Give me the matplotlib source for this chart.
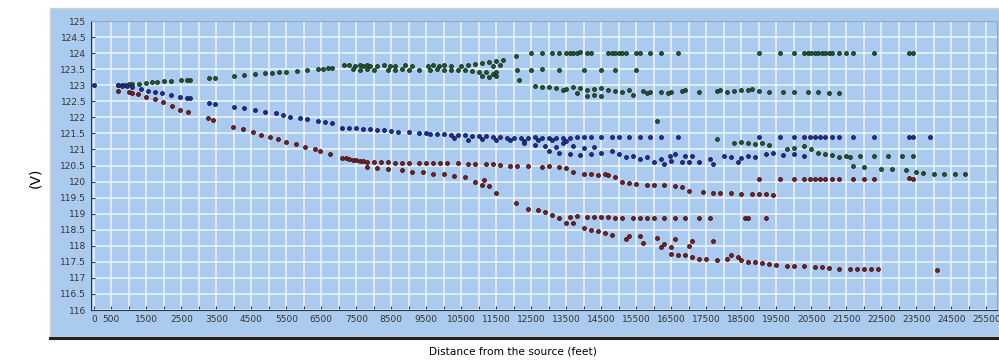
import matplotlib.pyplot as plt
from matplotlib.patches import Rectangle
from matplotlib.lines import Line2D
import numpy as np

# phase voltages vs distance
green_x = [700, 800, 900, 1000, 1100, 1300, 1500, 1650, 1800, 2000, 2200, 2500, 2650, 2750,
           3300, 3450, 4000, 4300, 4600, 4900, 5100, 5300, 5500, 5800, 6100, 6400, 6550, 6700, 6800,
           7150, 7300, 7450, 7600, 7700, 7800, 7900, 8100, 8300, 8450, 8600, 8900, 9100, 9550, 9700,
           9850, 10000, 10200, 10500, 10700, 10900, 11100, 11300, 11500, 11700, 11400, 11600,
           7400, 7600, 7800, 8000, 8400, 8600, 8800, 9000, 9300, 9600, 9800, 10000, 10200, 10400,
           10600, 10800, 11000, 11200, 11400, 11500, 11100, 11300, 11500,
           12050, 12100, 12150,
           12500, 12800, 13100, 13300, 13500, 13600, 13700, 13800, 13900, 14100, 14200, 14700, 14800,
           14900, 15000, 15100, 15200, 15500, 15600, 15900, 16200, 16700, 19000, 19600, 20000, 20300,
           20400, 20500, 20600, 20700, 20800, 20900, 21000, 21100, 21300, 21500, 21700, 22300, 23300,
           23400,
           12500, 12800, 13300, 14000, 14500, 14900, 15500,
           12600, 12800, 13000, 13200, 13400, 13500, 13700, 13900, 14100, 14300, 14500, 14700, 14900,
           15100, 15300, 15700, 15900, 16200, 16500, 16800, 16900, 17300, 17800, 17900, 18100, 18300,
           18500, 18700, 18800, 19000, 19300, 19700, 20000, 20400, 20700, 21000, 21300,
           13800, 14100, 14300, 14500, 15400, 15800, 16400,
           16100,
           17800, 18300, 18500, 18700, 18900, 19100, 19300, 19800, 20000, 20300, 20500, 20700, 20900,
           21100, 21300, 21500, 21600, 21900, 22300, 22700, 23100, 23400,
           21700, 22000, 22500, 22800, 23200, 23500, 23700, 24000, 24300, 24600, 24900]
green_y = [123.0, 123.0, 123.02, 123.03, 123.04, 123.05, 123.07, 123.09, 123.1, 123.12, 123.13,
           123.15, 123.17, 123.17,
           123.22, 123.24, 123.28, 123.31, 123.34, 123.37, 123.38, 123.4, 123.42, 123.45, 123.47,
           123.5, 123.51, 123.53, 123.55,
           123.62, 123.63, 123.61, 123.62, 123.6, 123.62, 123.61, 123.6, 123.62, 123.6, 123.61,
           123.62, 123.6, 123.61, 123.62, 123.6, 123.62, 123.61, 123.6, 123.62, 123.65, 123.68,
           123.72, 123.75, 123.8, 123.6, 123.62,
           123.5, 123.48, 123.5, 123.47, 123.48, 123.46, 123.5, 123.48, 123.47, 123.48, 123.5,
           123.47, 123.48, 123.46, 123.47, 123.45, 123.42, 123.4, 123.35, 123.4, 123.3, 123.25,
           123.28,
           123.9, 123.48, 123.15,
           124.0, 124.0, 124.0, 124.0, 124.01, 124.0, 124.0, 124.01, 124.02, 124.0, 124.01, 124.0,
           124.0, 124.0, 124.0, 124.0, 124.0, 124.0, 124.0, 124.0, 124.0, 124.0, 124.0, 124.0,
           124.0, 124.0, 124.0, 124.0, 124.0, 124.0, 124.0, 124.0, 124.0, 124.0, 124.0, 124.0,
           124.0, 124.0, 124.0, 124.0,
           123.48, 123.5, 123.47, 123.48, 123.47, 123.48, 123.48,
           122.97, 122.95, 122.93, 122.9, 122.85, 122.88, 122.95, 122.9, 122.85, 122.88, 122.9,
           122.85, 122.82, 122.8, 122.85, 122.82, 122.8, 122.78, 122.8, 122.82, 122.85, 122.8,
           122.82, 122.85, 122.8, 122.82, 122.84, 122.86, 122.88, 122.82, 122.78, 122.8, 122.78,
           122.8, 122.78, 122.77, 122.76,
           122.75, 122.65, 122.68, 122.65, 122.7, 122.75, 122.75,
           121.9,
           121.33, 121.2, 121.22, 121.2, 121.18, 121.2, 121.15, 121.0, 121.05, 121.1, 121.0, 120.9,
           120.85, 120.82, 120.75, 120.8, 120.75, 120.8, 120.8, 120.8, 120.8, 120.8,
           120.5, 120.45, 120.4, 120.38, 120.35, 120.3, 120.28, 120.25, 120.25, 120.25, 120.25]

blue_x = [0, 700, 800, 950, 1100, 1350, 1550, 1750, 1950, 2200, 2450, 2650, 2750, 3300, 3450,
          4000, 4300, 4600, 4900, 5200, 5400, 5600, 5900, 6100, 6400, 6600, 6800,
          7100, 7300, 7500, 7700, 7900, 8100, 8300, 8500, 8700, 9000, 9300, 9500,
          9600, 9800, 10000, 10200, 10400, 10600, 10800, 11000, 11200, 11400, 11600, 11800, 12000,
          12200, 12400, 12600, 12800, 13000, 13200, 13400, 13600, 13800, 14000, 14200, 14500, 14800,
          15000, 15300, 15600, 15900, 16200, 16700, 19000, 19600, 20000, 20300, 20450, 20600, 20750,
          20900, 21100, 21300, 21700, 22300, 23300, 23400, 23900,
          10300, 10700, 11100, 11500, 11900, 12300, 12700, 13100, 13500,
          12300, 12600, 12900, 13200, 13400, 13700, 14000, 14300,
          13000, 13300, 13600, 13900, 14200, 14500, 14800, 15000, 15200, 15400, 15600, 15800, 16000,
          16200, 16500, 16800, 17000, 17300, 17600, 17700, 18000, 18200, 18500, 18700, 18900, 19200,
          19400, 19700, 20000, 20300, 16600, 16900, 17100, 18400, 16300, 16450]
blue_y = [123.02, 123.0, 122.99, 122.97, 122.93, 122.88, 122.82, 122.79, 122.75, 122.68, 122.63,
          122.61, 122.59, 122.46, 122.43,
          122.33, 122.28, 122.22, 122.17, 122.12, 122.08, 122.02, 121.98, 121.94, 121.88, 121.86,
          121.81,
          121.68, 121.67, 121.66, 121.65, 121.64, 121.62, 121.6, 121.58, 121.55, 121.53, 121.52,
          121.5,
          121.48, 121.47, 121.47, 121.46, 121.45, 121.44, 121.43, 121.42, 121.41, 121.4, 121.38,
          121.37, 121.36, 121.36, 121.36, 121.38, 121.37, 121.37, 121.35, 121.36, 121.36, 121.4,
          121.4, 121.4, 121.4, 121.4, 121.4, 121.4, 121.4, 121.4, 121.4, 121.4, 121.4, 121.4, 121.4,
          121.4, 121.4, 121.4, 121.4, 121.4, 121.4, 121.4, 121.4, 121.4, 121.4, 121.4, 121.38,
          121.35, 121.3, 121.32, 121.3, 121.28, 121.25, 121.28, 121.3, 121.25,
          121.2, 121.15, 121.1, 121.08, 121.2, 121.1, 121.05, 121.08,
          120.95, 120.9, 120.85, 120.82, 120.85, 120.9, 120.95, 120.85, 120.75, 120.8, 120.7,
          120.75, 120.6, 120.7, 120.65, 120.6, 120.62, 120.6, 120.7, 120.55, 120.8, 120.75, 120.72,
          120.8, 120.78, 120.85, 120.9, 120.82, 120.85, 120.8, 120.85, 120.8, 120.8, 120.6, 120.55,
          120.8]

red_x = [700, 1000, 1100, 1270, 1500, 1750, 1980, 2220, 2460, 2700, 3270, 3410, 3980, 4270, 4550,
         4790, 5030, 5270, 5500, 5790, 6030, 6310, 6460, 6740,
         7100, 7200, 7300, 7400, 7500, 7600, 7700, 7800, 8000, 8200, 8400, 8600, 8800, 9000, 9300,
         9500, 9700, 9900, 10100, 10400, 10700, 10900, 11200, 11400, 11600, 11900, 12100, 12400,
         12800, 13000, 13300, 13500, 13700, 14000, 14200, 14400, 14600, 14700, 14900, 15100, 15300,
         15500, 15800, 16000, 16300, 16600, 16800, 17000, 17400, 17700, 17900, 18200, 18500, 18800,
         19000, 19200, 19400,
         19000, 19600, 20000, 20300, 20450, 20600, 20750, 20900, 21100, 21300, 21700, 22000, 22300,
         23300, 23400,
         7800, 8100, 8400, 8800, 9100, 9400, 9700, 10000, 10300, 10600, 10900, 11100, 11300, 11150,
         11500, 12070, 12400, 12700, 12900, 13100, 13300, 13600, 13800, 14100, 14300, 14500, 14700,
         14900, 15100, 15400, 15600, 15800, 16000, 16300, 16600, 16900, 17300, 17600, 18600, 18700,
         19200,
         13500, 13700, 14000, 14200, 14400, 14600, 14800, 15300, 15200, 15600, 15700, 16100, 16300,
         16200, 16600, 16500, 17100, 17000, 17700,
         16500, 16700, 16900, 17100, 17300, 17500, 17800, 18100, 18200, 18400, 18500, 18700, 18900,
         19100, 19300, 19500, 19800, 20000, 20300, 20600, 20800, 21000, 21300, 21600, 21800, 22000,
         22200, 22400, 24100]
red_y = [122.83, 122.78, 122.75, 122.72, 122.64, 122.57, 122.49, 122.35, 122.23, 122.16, 121.97,
         121.92, 121.71, 121.65, 121.55, 121.45, 121.4, 121.32, 121.24, 121.16, 121.07, 121.0,
         120.94, 120.87,
         120.72, 120.72, 120.7, 120.68, 120.66, 120.65, 120.63, 120.62, 120.6, 120.6, 120.6,
         120.59, 120.58, 120.58, 120.58, 120.58, 120.58, 120.57, 120.57, 120.57, 120.55, 120.55,
         120.55, 120.56, 120.52, 120.5, 120.48, 120.47, 120.45, 120.5, 120.45, 120.42, 120.3,
         120.25, 120.22, 120.2, 120.22, 120.2, 120.15, 120.0, 119.95, 119.92, 119.9, 119.9,
         119.88, 119.85, 119.82, 119.7, 119.68, 119.65, 119.65, 119.63, 119.62, 119.6, 119.62,
         119.6, 119.58,
         120.08, 120.08, 120.08, 120.08, 120.08, 120.08, 120.08, 120.08, 120.08, 120.08, 120.08,
         120.08, 120.08, 120.1, 120.08,
         120.45, 120.42, 120.4, 120.35, 120.3, 120.3, 120.25, 120.22, 120.18, 120.15, 120.0,
         119.9, 119.85, 120.05, 119.65, 119.33, 119.15, 119.1, 119.05, 118.95, 118.85, 118.9,
         118.92, 118.9, 118.9, 118.9, 118.9, 118.88, 118.88, 118.88, 118.85, 118.87, 118.85,
         118.85, 118.85, 118.85, 118.85, 118.85, 118.85, 118.87, 118.85,
         118.7, 118.7, 118.55, 118.5, 118.45, 118.4, 118.35, 118.3, 118.2, 118.3, 118.1, 118.25,
         118.05, 117.95, 118.2, 117.95, 118.15, 118.0, 118.15,
         117.75, 117.72, 117.7, 117.65, 117.6, 117.6, 117.55, 117.6, 117.7, 117.65, 117.55, 117.5,
         117.5, 117.45, 117.42, 117.4, 117.38, 117.38, 117.38, 117.35, 117.33, 117.3, 117.28,
         117.28, 117.28, 117.28, 117.28, 117.28, 117.25]

x_ticks = np.arange(0, 26000, 500)
x_labels = ['0', '500'] + [str(v) if v % 1000 == 500 else '' for v in x_ticks[2:]]
y_ticks = np.arange(116, 125.01, 0.5)
y_labels = [('%g' % v) for v in y_ticks]

panel_color = '#abcbee'
fig = plt.figure(figsize=(9.99, 3.62), dpi=100)
fig.patches.append(Rectangle((50 / 999, 1 - 336 / 362), 1, 328 / 362, transform=fig.transFigure,
                             facecolor=panel_color, edgecolor='#d0d0d0', lw=1, zorder=-10))
fig.lines.append(Line2D([50 / 999, 1], [1 - 338 / 362] * 2, transform=fig.transFigure,
                        color='#222222', lw=2.2))

ax = fig.add_axes([91 / 999, 1 - 310 / 362, 906 / 999, 289 / 362])
ax.set_facecolor('#aacaef')
ax.set_xlim(-80, 25800)
ax.set_ylim(116, 125)
ax.set_xticks(x_ticks)
ax.set_xticklabels(x_labels)
ax.set_yticks(y_ticks)
ax.set_yticklabels(y_labels)
ax.tick_params(direction='in', length=3, width=0.8, colors='#2a3550', labelsize=6.5,
               labelcolor='#333333')
ax.grid(True, color='#eef4fc', lw=1.1)
ax.set_axisbelow(True)
for s in ['left', 'bottom']:
    ax.spines[s].set_color('#2a3550')
for s in ['top', 'right']:
    ax.spines[s].set_color('#8fa9c8')

ms = 2.7
ax.plot(green_x, green_y, 'o', ms=ms, color='#2a5a30', mec='#10301a', mew=0.7)
ax.plot(blue_x, blue_y, 'o', ms=ms, color='#20309a', mec='#101a55', mew=0.7)
ax.plot(red_x, red_y, 'o', ms=ms, color='#8a2020', mec='#3a1010', mew=0.7)

fig.text(35 / 999, 1 - 178 / 362, '(V)', rotation=90, ha='center', va='center', fontsize=10)
fig.text(513 / 999, 1 - 352 / 362, 'Distance from the source (feet)', ha='center', va='center',
         fontsize=7.7)

fig.savefig('out.png', dpi=100)
